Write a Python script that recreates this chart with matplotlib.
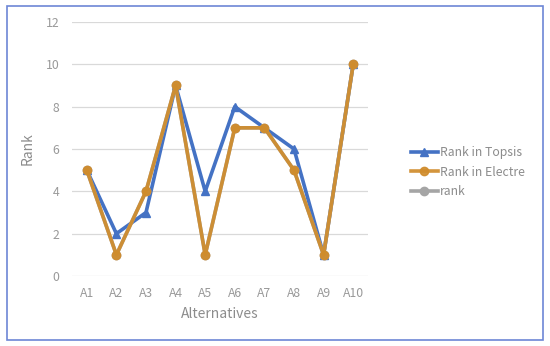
import numpy as np
import matplotlib.pyplot as plt
from matplotlib.patches import Rectangle

categories = ['A1', 'A2', 'A3', 'A4', 'A5', 'A6', 'A7', 'A8', 'A9', 'A10']
rank_topsis = [5, 2, 3, 9, 4, 8, 7, 6, 1, 10]
rank_electre = [5, 1, 4, 9, 1, 7, 7, 5, 1, 10]
rank = [5, 1, 4, 9, 1, 7, 7, 5, 1, 10]

plt.rcParams['font.family'] = ['Noto Sans CJK SC', 'DejaVu Sans']

fig = plt.figure(figsize=(5.5, 3.46), dpi=100)
ax = fig.add_axes([72 / 550, 70 / 346, 296 / 550, 254 / 346])

x = np.arange(len(categories))
ax.plot(x, rank_topsis, color='#4472C4', lw=2.6, marker='^', ms=6,
        label='Rank in Topsis', zorder=3)
ax.plot(x, rank, color='#A5A5A5', lw=2.6, marker='o', ms=6,
        label='rank', zorder=4)
ax.plot(x, rank_electre, color='#D08C2C', lw=2.6, marker='o', ms=6,
        label='Rank in Electre', zorder=5, alpha=0.92)

ax.set_xlim(-0.5, len(categories) - 0.5)
ax.set_ylim(0, 12)
ax.set_yticks(range(0, 13, 2))
ax.set_xticks(x)
ax.set_xticklabels(categories)
ax.grid(axis='y', color='#D9D9D9', lw=0.9)
ax.set_axisbelow(True)
for s in ax.spines.values():
    s.set_visible(False)
ax.tick_params(axis='x', length=0, colors='#999999', labelsize=8.8, pad=8)
ax.tick_params(axis='y', length=0, colors='#999999', labelsize=8.8, pad=9)
ax.set_xlabel('Alternatives', color='#8C8C8C', fontsize=10, labelpad=5)
ax.set_ylabel('Rank', color='#8C8C8C', fontsize=10, labelpad=8)

h, l = ax.get_legend_handles_labels()
order = [0, 2, 1]
leg = fig.legend([h[i] for i in order], [l[i] for i in order],
                 loc='center left', bbox_to_anchor=(400 / 550, 1 - 172 / 346),
                 frameon=False, fontsize=8.8, handlelength=2.2,
                 handletextpad=0.2, labelspacing=0.55)
for t in leg.get_texts():
    t.set_color('#8C8C8C')

fig.patches.append(Rectangle((7 / 550, 6 / 346), 536 / 550, 334 / 346,
                             transform=fig.transFigure, fill=False,
                             edgecolor='#6D86D6', lw=1.2))

fig.savefig('out.png', dpi=100)
